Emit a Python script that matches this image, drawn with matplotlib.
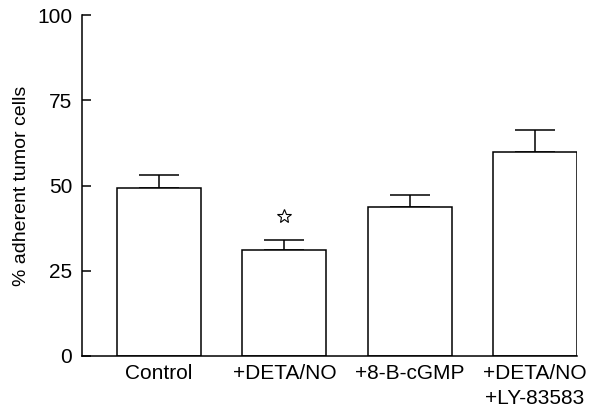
import matplotlib
matplotlib.use('Agg')
import matplotlib.pyplot as plt
import numpy as np

plt.rcParams['font.family'] = ['Liberation Sans', 'DejaVu Sans']

groups = ['Control', '+DETA/NO', '+8-B-cGMP', '+DETA/NO\n+LY-83583']
means = [49.2, 31.1, 43.8, 59.9]
sem = [3.8, 2.9, 3.4, 6.4]
star_y = 41

fig = plt.figure(figsize=(6.08, 4.08), dpi=100)
ax = fig.add_axes([0.135, 0.1275, 0.814, 0.8355])

x = np.arange(len(groups))
ax.bar(x, means, width=0.67, facecolor='white', edgecolor='black', lw=1.1, zorder=2)
ax.errorbar(x, means, yerr=[np.zeros(len(sem)), sem], fmt='none', ecolor='black',
            elinewidth=1.1, capsize=14.4, capthick=1.1, zorder=1)

# significance mark
ax.plot([x[1]], [star_y], marker='*', markersize=10, markerfacecolor='white',
        markeredgecolor='black', markeredgewidth=0.8, linestyle='none')

ax.set_xlim(-0.614, 3.335)
ax.set_ylim(0, 100)
ax.set_yticks([0, 25, 50, 75, 100])
ax.set_xticks(x)
ax.set_xticklabels(groups, fontsize=15, linespacing=1.4, va='top')
ax.tick_params(axis='x', length=0, pad=6)
ax.tick_params(axis='y', direction='in', length=6.5, width=1.1, labelsize=15, pad=7)
ax.set_ylabel('% adherent tumor cells', fontsize=14, labelpad=5)

for s in ['top', 'right']:
    ax.spines[s].set_visible(False)
for s in ['left', 'bottom']:
    ax.spines[s].set_linewidth(1.1)

fig.savefig('out.png', dpi=100)
